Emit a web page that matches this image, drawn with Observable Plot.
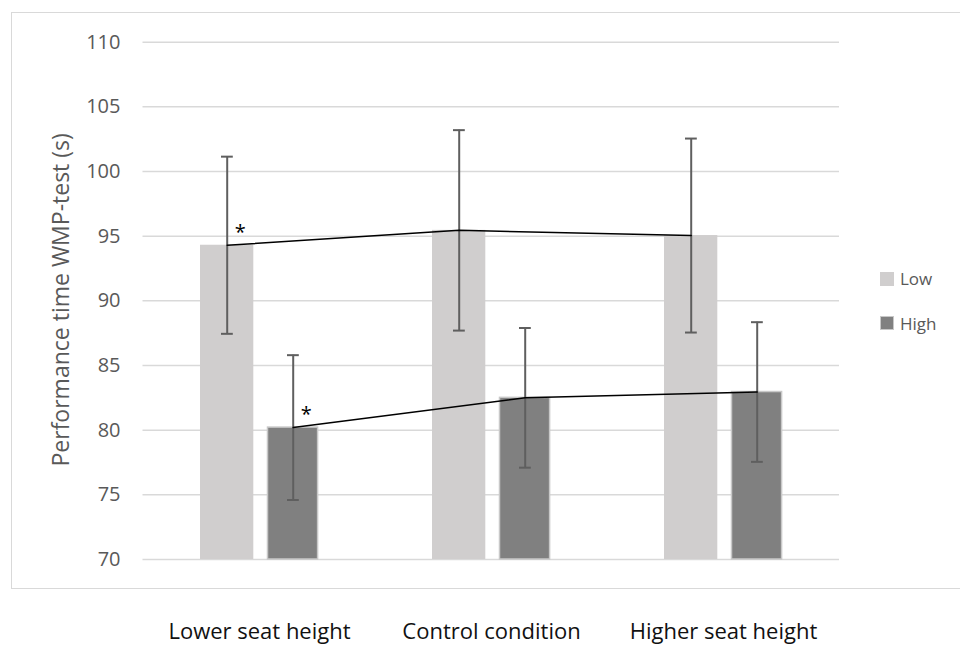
<!DOCTYPE html>
<html>
<head>
<meta charset="utf-8">
<script src="https://cdn.jsdelivr.net/npm/d3@7"></script>
<script src="https://cdn.jsdelivr.net/npm/@observablehq/plot@0.6"></script>
<style>
  html, body { margin: 0; padding: 0; background: #fff; overflow: hidden; }
  #wrap { position: relative; width: 960px; height: 645px; overflow: hidden; font-family: "Open Sans", sans-serif; }
  #frame { position: absolute; left: 11px; top: 12px; width: 980px; height: 577px; border: 1.5px solid #d9d9d9; box-sizing: border-box; }
  #chart { position: absolute; left: 0; top: 0; }
  .leg { position: absolute; left: 880px; height: 20px; display: flex; align-items: center; font-size: 17px; color: #595959; }
  .sw { width: 14px; height: 14px; margin-right: 6px; box-sizing: border-box; }
</style>
</head>
<body>
<div id="wrap">
  <div id="frame"></div>
  <div id="chart"></div>
</div>
<script>
// ---- data ----
const categories = ["Lower seat height", "Control condition", "Higher seat height"];
const seriesNames = ["Low", "High"];
const lowMeans = [94.3, 95.45, 95.05];
const lowSD = [6.85, 7.75, 7.5];
const highMeans = [80.2, 82.5, 82.95];
const highSD = [5.6, 5.4, 5.4];
const sigCategories = ["Lower seat height"]; // marked with * in both series
const sigLabel = "*";
const yTicks = [70, 75, 80, 85, 90, 95, 100, 105, 110];
const yTitle = "Performance time WMP-test (s)";

// ---- styles ----
const colors = {Low: "#d0cece", High: "#808080"};

const lowRows = categories.map((c, i) => ({category: c, series: "Low", mean: lowMeans[i], sd: lowSD[i]}));
const highRows = categories.map((c, i) => ({category: c, series: "High", mean: highMeans[i], sd: highSD[i]}));
const lowSig = lowRows.filter(d => sigCategories.includes(d.category));
const highSig = highRows.filter(d => sigCategories.includes(d.category));

const yMin = yTicks[0], yMax = yTicks[yTicks.length - 1];
const lowDx = -32.3, highDx = 33.7;
const errColor = "#5f5f5f";

const plot = Plot.plot({
  width: 960,
  height: 645,
  marginLeft: 142.5,
  marginRight: 121,
  marginTop: 41.7,
  marginBottom: 86,
  x: {domain: categories, padding: 0, label: null},
  y: {domain: [yMin, yMax], label: null},
  style: {fontFamily: "Open Sans, sans-serif", background: "transparent", overflow: "visible"},
  marks: [
    Plot.gridY(yTicks, {stroke: "#d9d9d9", strokeOpacity: 1, strokeWidth: 1.5}),
    Plot.barY(lowRows, {x: "category", y1: () => yMin, y2: "mean", fill: colors.Low, insetLeft: 57, insetRight: 121.7}),
    Plot.barY(highRows, {x: "category", y1: () => yMin, y2: "mean", fill: colors.High, stroke: "#c8c8c8", strokeWidth: 1.5, insetLeft: 124.5, insetRight: 57.4}),
    // error bars
    Plot.ruleX(lowRows, {x: "category", y1: d => d.mean - d.sd, y2: d => d.mean + d.sd, dx: lowDx, stroke: errColor, strokeWidth: 2}),
    Plot.ruleX(highRows, {x: "category", y1: d => d.mean - d.sd, y2: d => d.mean + d.sd, dx: highDx, stroke: errColor, strokeWidth: 2}),
    Plot.tickY(lowRows, {x: "category", y: d => d.mean + d.sd, insetLeft: 78, insetRight: 142.2, stroke: errColor, strokeWidth: 2}),
    Plot.tickY(lowRows, {x: "category", y: d => d.mean - d.sd, insetLeft: 78, insetRight: 142.2, stroke: errColor, strokeWidth: 2}),
    Plot.tickY(highRows, {x: "category", y: d => d.mean + d.sd, insetLeft: 144, insetRight: 76.2, stroke: errColor, strokeWidth: 2}),
    Plot.tickY(highRows, {x: "category", y: d => d.mean - d.sd, insetLeft: 144, insetRight: 76.2, stroke: errColor, strokeWidth: 2}),
    // connecting lines
    Plot.line(lowRows, {x: "category", y: "mean", dx: lowDx, stroke: "#000", strokeWidth: 1.5}),
    Plot.line(highRows, {x: "category", y: "mean", dx: highDx, stroke: "#000", strokeWidth: 1.5}),
    // significance markers
    Plot.text(lowSig, {x: "category", y: "mean", text: () => sigLabel, dx: lowDx + 13, dy: -13, fontSize: 20, fill: "#000"}),
    Plot.text(highSig, {x: "category", y: "mean", text: () => sigLabel, dx: highDx + 13, dy: -13, fontSize: 20, fill: "#000"}),
    // axes
    Plot.axisY({ticks: yTicks, tickSize: 0, tickPadding: 22.5, fontSize: 20, color: "#595959", label: null}),
    Plot.axisX({tickSize: 0, tickPadding: 64, fontSize: 22, color: "#111", label: null}),
    Plot.text([yTitle], {frameAnchor: "left", textAnchor: "middle", lineAnchor: "middle", rotate: -90, dx: -81.5, dy: -1, text: d => d, fontSize: 23, fill: "#595959"})
  ]
});
document.getElementById("chart").appendChild(plot);

// legend
const wrap = document.getElementById("wrap");
const legTops = [268.5, 313];
seriesNames.forEach((s, i) => {
  const el = document.createElement("div");
  el.className = "leg";
  el.style.top = legTops[i] + "px";
  const sw = document.createElement("div");
  sw.className = "sw";
  sw.style.background = colors[s];
  if (s === "High") sw.style.border = "1.5px solid #c8c8c8";
  el.appendChild(sw);
  const t = document.createElement("span");
  t.textContent = s;
  el.appendChild(t);
  wrap.appendChild(el);
});
</script>
</body>
</html>
